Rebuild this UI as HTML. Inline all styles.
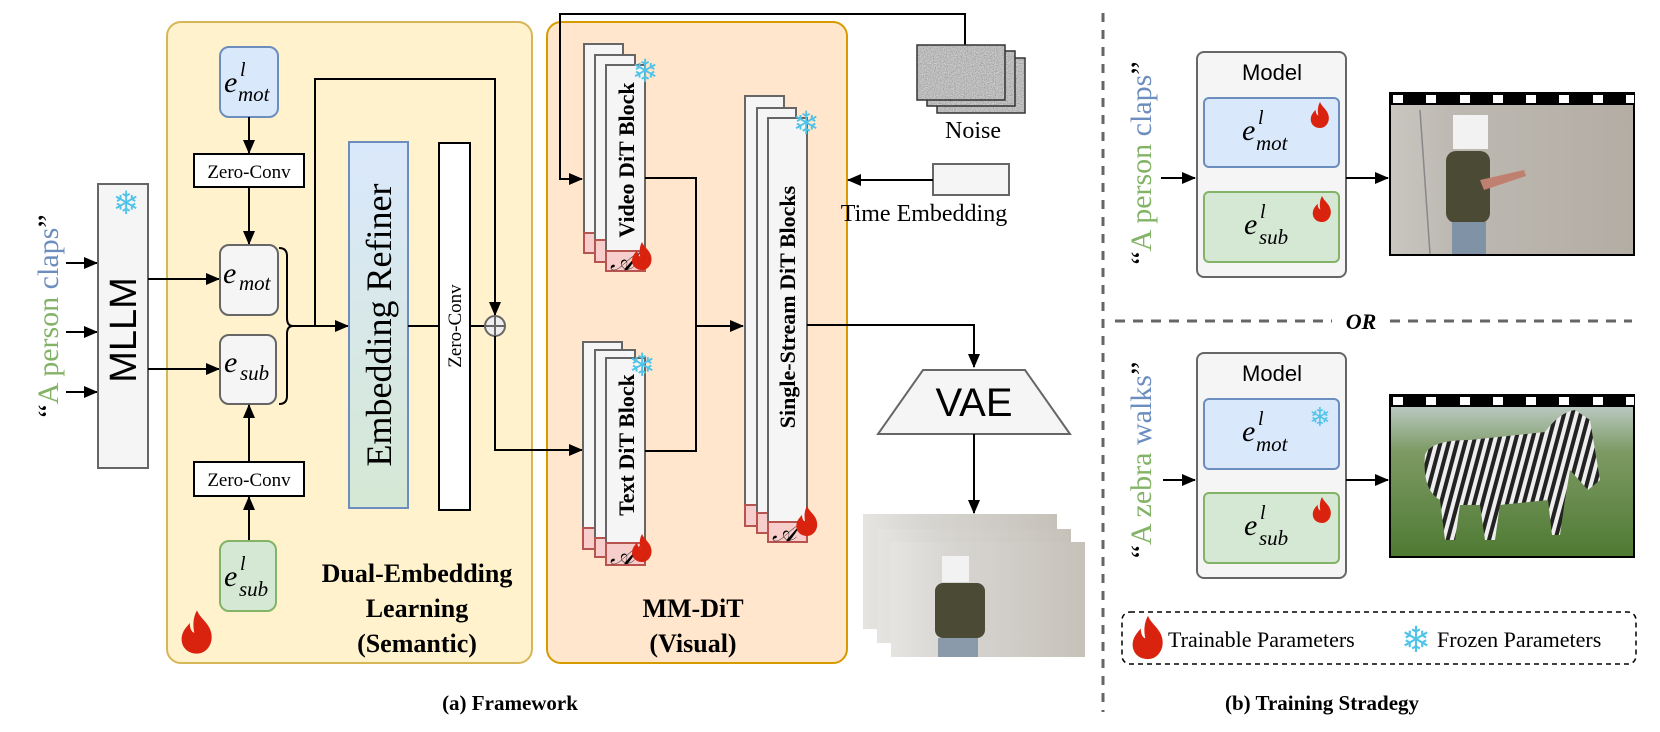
<!DOCTYPE html>
<html><head><meta charset="utf-8"><style>
html,body{margin:0;padding:0;background:#fff;}
svg{display:block;}
.serif{font-family:"Liberation Serif",serif;}
.sans{font-family:"Liberation Sans",sans-serif;}
</style></head><body>
<svg width="1660" height="732" viewBox="0 0 1660 732" xmlns="http://www.w3.org/2000/svg">
<defs>
<marker id="ar" markerWidth="14" markerHeight="12" refX="13" refY="6" orient="auto" markerUnits="userSpaceOnUse">
<path d="M0,0 L14,6 L0,12 z" fill="#000"/></marker>
<linearGradient id="ref" x1="0" y1="0" x2="0" y2="1"><stop offset="0" stop-color="#dae8fc"/><stop offset="1" stop-color="#d5e8d4"/></linearGradient>
<linearGradient id="wall" x1="0" y1="0" x2="1" y2="0"><stop offset="0" stop-color="#e6e4e0"/><stop offset="0.3" stop-color="#d8d6d2"/><stop offset="1" stop-color="#c6c2ba"/></linearGradient>
<linearGradient id="wall2" x1="0" y1="0" x2="1" y2="0"><stop offset="0" stop-color="#c9c6c0"/><stop offset="0.25" stop-color="#bdb9b2"/><stop offset="1" stop-color="#b3ada4"/></linearGradient>
<linearGradient id="grass" x1="0" y1="0" x2="0" y2="1"><stop offset="0" stop-color="#b9c8c0"/><stop offset="0.3" stop-color="#7d9a64"/><stop offset="1" stop-color="#4f7a33"/></linearGradient>
<pattern id="stripes" width="8" height="8" patternUnits="userSpaceOnUse" patternTransform="rotate(15)"><rect width="8" height="8" fill="#eee"/><rect width="4" height="8" fill="#222"/></pattern>
<filter id="nz" x="0" y="0" width="1" height="1"><feTurbulence type="fractalNoise" baseFrequency="0.9" numOctaves="2" seed="3"/><feColorMatrix type="matrix" values="0.33 0.33 0.33 0 0  0.33 0.33 0.33 0 0  0.33 0.33 0.33 0 0  0 0 0 0 1"/></filter>
<symbol id="flame" viewBox="0 0 40 48"><path d="M20,0 C24,10 34,14 36,26 C38,38 30,48 20,48 C9,48 2,40 3,30 C4,22 9,18 12,14 C12,20 14,24 17,25 C15,16 16,7 20,0 z" fill="#d9230f"/></symbol>
</defs>

<rect x="167" y="22" width="365" height="641" rx="14" fill="#fff2cc" stroke="#d6b656" stroke-width="2"/>
<rect x="547" y="22" width="300" height="641" rx="14" fill="#ffe6cc" stroke="#d79b00" stroke-width="2"/>

<text class="serif" font-size="30" transform="translate(58,316) rotate(-90)" text-anchor="middle"><tspan fill="#000">“</tspan><tspan fill="#82b366">A person </tspan><tspan fill="#6c8ebf">claps</tspan><tspan fill="#000">”</tspan></text>
<g stroke="#000" stroke-width="2" marker-end="url(#ar)">
<line x1="66" y1="263" x2="97" y2="263"/><line x1="66" y1="332" x2="97" y2="332"/><line x1="66" y1="392" x2="97" y2="392"/>
</g>
<rect x="98" y="184" width="50" height="284" fill="#f5f5f5" stroke="#666" stroke-width="2"/>
<text class="sans" font-size="38" transform="translate(136,330) rotate(-90)" text-anchor="middle">MLLM</text>
<text x="126" y="214" font-size="32" fill="#4fc3e8" text-anchor="middle" font-family="DejaVu Sans">❄</text>
<g stroke="#000" stroke-width="2" marker-end="url(#ar)">
<line x1="148" y1="279" x2="219" y2="279"/><line x1="148" y1="369" x2="219" y2="369"/>
</g>

<rect x="220" y="47" width="58" height="70" rx="9" fill="#dae8fc" stroke="#6c8ebf" stroke-width="2"/>
<text class="serif" font-style="italic" x="224" y="92" font-size="30">e</text>
<text class="serif" font-style="italic" x="240" y="76" font-size="20">l</text>
<text class="serif" font-style="italic" x="238" y="101" font-size="21">mot</text>
<line x1="249" y1="117" x2="249" y2="153" stroke="#000" stroke-width="2" marker-end="url(#ar)"/>
<rect x="194" y="154" width="110" height="33" fill="#fff" stroke="#000" stroke-width="2"/>
<text class="serif" x="249" y="178" font-size="19" text-anchor="middle">Zero-Conv</text>
<line x1="249" y1="187" x2="249" y2="244" stroke="#000" stroke-width="2" marker-end="url(#ar)"/>
<rect x="220" y="245" width="58" height="70" rx="9" fill="#f5f5f5" stroke="#666" stroke-width="2"/>
<text class="serif" font-style="italic" x="223" y="283" font-size="30">e</text>
<text class="serif" font-style="italic" x="239" y="290" font-size="21">mot</text>
<rect x="220" y="335" width="56" height="69" rx="9" fill="#f5f5f5" stroke="#666" stroke-width="2"/>
<text class="serif" font-style="italic" x="224" y="372" font-size="30">e</text>
<text class="serif" font-style="italic" x="240" y="380" font-size="21">sub</text>
<path d="M279,248 Q287,248 287,256 L287,318 Q287,326 293,326 Q287,326 287,334 L287,396 Q287,404 279,404" fill="none" stroke="#000" stroke-width="2"/>
<line x1="293" y1="326" x2="348" y2="326" stroke="#000" stroke-width="2" marker-end="url(#ar)"/>
<polyline points="315,326 315,79 495,79 495,315" fill="none" stroke="#000" stroke-width="2" marker-end="url(#ar)"/>
<line x1="249" y1="541" x2="249" y2="497" stroke="#000" stroke-width="2" marker-end="url(#ar)"/>
<rect x="194" y="462" width="110" height="34" fill="#fff" stroke="#000" stroke-width="2"/>
<text class="serif" x="249" y="486" font-size="19" text-anchor="middle">Zero-Conv</text>
<line x1="249" y1="462" x2="249" y2="405" stroke="#000" stroke-width="2" marker-end="url(#ar)"/>
<rect x="220" y="541" width="56" height="70" rx="9" fill="#d5e8d4" stroke="#82b366" stroke-width="2"/>
<text class="serif" font-style="italic" x="224" y="586" font-size="30">e</text>
<text class="serif" font-style="italic" x="240" y="570" font-size="20">l</text>
<text class="serif" font-style="italic" x="239" y="596" font-size="21">sub</text>

<rect x="349" y="142" width="59" height="366" fill="url(#ref)" stroke="#6c8ebf" stroke-width="2"/>
<text class="serif" font-size="36" transform="translate(391,325) rotate(-90)" text-anchor="middle">Embedding Refiner</text>
<line x1="408" y1="326" x2="439" y2="326" stroke="#000" stroke-width="2"/>
<rect x="439" y="143" width="31" height="367" fill="#fff" stroke="#000" stroke-width="2"/>
<text class="serif" font-size="19" transform="translate(461,326) rotate(-90)" text-anchor="middle">Zero-Conv</text>
<line x1="470" y1="326" x2="485" y2="326" stroke="#000" stroke-width="2"/>
<circle cx="495" cy="326" r="10" fill="#eee" stroke="#666" stroke-width="2"/>
<line x1="485" y1="326" x2="505" y2="326" stroke="#666" stroke-width="2"/>
<line x1="495" y1="316" x2="495" y2="336" stroke="#666" stroke-width="2"/>
<polyline points="495,336 495,450 582,450" fill="none" stroke="#000" stroke-width="2" marker-end="url(#ar)"/>

<use href="#flame" x="179" y="610" width="36" height="44"/>
<g class="serif" font-weight="bold" font-size="26" text-anchor="middle">
<text x="417" y="582">Dual-Embedding</text><text x="417" y="617">Learning</text><text x="417" y="652">(Semantic)</text>
<text x="693" y="617">MM-DiT</text><text x="693" y="652">(Visual)</text>
</g>

<polyline points="965,45 965,14 560,14 560,179 582,179" fill="none" stroke="#000" stroke-width="2" marker-end="url(#ar)"/>

<g stroke="#666" stroke-width="2">
<rect x="584" y="44" width="39" height="189" fill="#f5f5f5"/><rect x="584" y="233" width="39" height="20" fill="#f8cecc" stroke="#b85450"/>
<rect x="595" y="55" width="40" height="185" fill="#f5f5f5"/><rect x="595" y="240" width="40" height="22" fill="#f8cecc" stroke="#b85450"/>
<rect x="606" y="65" width="39" height="186" fill="#f5f5f5"/><rect x="606" y="251" width="39" height="20" fill="#f8cecc" stroke="#b85450"/>
</g>
<text class="serif" font-weight="bold" font-size="22" transform="translate(634,160) rotate(-90)" text-anchor="middle">Video DiT Block</text>
<text class="serif" font-style="italic" font-size="26" x="610" y="270">𝒜</text>
<text x="645" y="82" font-size="32" fill="#4fc3e8" text-anchor="middle" font-family="DejaVu Sans">❄</text>
<use href="#flame" x="630" y="242" width="24" height="28"/>

<g stroke="#666" stroke-width="2">
<rect x="583" y="342" width="39" height="186" fill="#f5f5f5"/><rect x="583" y="528" width="39" height="21" fill="#f8cecc" stroke="#b85450"/>
<rect x="595" y="350" width="40" height="188" fill="#f5f5f5"/><rect x="595" y="538" width="40" height="19" fill="#f8cecc" stroke="#b85450"/>
<rect x="606" y="358" width="39" height="185" fill="#f5f5f5"/><rect x="606" y="543" width="39" height="22" fill="#f8cecc" stroke="#b85450"/>
</g>
<text class="serif" font-weight="bold" font-size="22" transform="translate(634,445) rotate(-90)" text-anchor="middle">Text DiT Block</text>
<text class="serif" font-style="italic" font-size="26" x="610" y="564">𝒜</text>
<text x="642" y="376" font-size="32" fill="#4fc3e8" text-anchor="middle" font-family="DejaVu Sans">❄</text>
<use href="#flame" x="630" y="534" width="24" height="28"/>

<polyline points="645,178 696,178 696,451 645,451" fill="none" stroke="#000" stroke-width="2"/>
<line x1="696" y1="326" x2="743" y2="326" stroke="#000" stroke-width="2" marker-end="url(#ar)"/>

<g stroke="#666" stroke-width="2">
<rect x="745" y="96" width="39" height="409" fill="#f5f5f5"/><rect x="745" y="505" width="39" height="21" fill="#f8cecc" stroke="#b85450"/>
<rect x="757" y="108" width="39" height="405" fill="#f5f5f5"/><rect x="757" y="513" width="39" height="20" fill="#f8cecc" stroke="#b85450"/>
<rect x="768" y="118" width="39" height="404" fill="#f5f5f5"/><rect x="768" y="522" width="39" height="20" fill="#f8cecc" stroke="#b85450"/>
</g>
<text class="serif" font-weight="bold" font-size="22" transform="translate(795,307) rotate(-90)" text-anchor="middle">Single-Stream DiT Blocks</text>
<text class="serif" font-style="italic" font-size="26" x="772" y="541">𝒜</text>
<text x="806" y="134" font-size="32" fill="#4fc3e8" text-anchor="middle" font-family="DejaVu Sans">❄</text>
<use href="#flame" x="794" y="506" width="26" height="30"/>

<polyline points="807,325 974,325 974,367" fill="none" stroke="#000" stroke-width="2" marker-end="url(#ar)"/>

<rect x="937" y="58" width="88" height="55" fill="#666" filter="url(#nz)"/>
<rect x="937" y="58" width="88" height="55" fill="none" stroke="#333" stroke-width="1.5"/>
<rect x="927" y="51" width="88" height="55" fill="#666" filter="url(#nz)"/>
<rect x="927" y="51" width="88" height="55" fill="none" stroke="#333" stroke-width="1.5"/>
<rect x="917" y="45" width="88" height="55" fill="#666" filter="url(#nz)"/>
<rect x="917" y="45" width="88" height="55" fill="none" stroke="#333" stroke-width="1.5"/>
<text class="serif" x="973" y="138" font-size="24" text-anchor="middle">Noise</text>
<rect x="933" y="164" width="76" height="31" fill="#f5f5f5" stroke="#666" stroke-width="2"/>
<line x1="933" y1="180" x2="848" y2="180" stroke="#000" stroke-width="2" marker-end="url(#ar)"/>
<text class="serif" x="924" y="221" font-size="24" text-anchor="middle">Time Embedding</text>

<polygon points="923,370 1025,370 1070,434 878,434" fill="#f5f5f5" stroke="#666" stroke-width="2"/>
<text class="sans" x="974" y="416" font-size="40" text-anchor="middle">VAE</text>
<line x1="974" y1="434" x2="974" y2="513" stroke="#000" stroke-width="2" marker-end="url(#ar)"/>

<rect x="863" y="514" width="194" height="115" fill="url(#wall)"/>
<rect x="877" y="529" width="194" height="114" fill="url(#wall)"/>
<rect x="891" y="542" width="194" height="115" fill="url(#wall)"/>
<rect x="935" y="583" width="50" height="55" rx="8" fill="#4a4a35"/>
<rect x="938" y="638" width="40" height="19" fill="#8a9aaa"/>
<rect x="942" y="556" width="27" height="26" fill="#f2f2f2"/>

<line x1="1103" y1="13" x2="1103" y2="712" stroke="#666" stroke-width="3" stroke-dasharray="9,8"/>
<line x1="1115" y1="321" x2="1332" y2="321" stroke="#666" stroke-width="3" stroke-dasharray="10,8"/>
<line x1="1390" y1="321" x2="1632" y2="321" stroke="#666" stroke-width="3" stroke-dasharray="10,8"/>
<text class="serif" x="1361" y="329" font-size="22" font-weight="bold" font-style="italic" text-anchor="middle">OR</text>

<text class="serif" font-size="30" transform="translate(1151,163) rotate(-90)" text-anchor="middle"><tspan fill="#000">“</tspan><tspan fill="#82b366">A person </tspan><tspan fill="#6c8ebf">claps</tspan><tspan fill="#000">”</tspan></text>
<line x1="1161" y1="178" x2="1195" y2="178" stroke="#000" stroke-width="2" marker-end="url(#ar)"/>
<rect x="1197" y="52" width="149" height="225" rx="7" fill="#f5f5f5" stroke="#666" stroke-width="2"/>
<text class="sans" x="1272" y="80" font-size="22" text-anchor="middle">Model</text>
<rect x="1204" y="98" width="135" height="69" rx="5" fill="#dae8fc" stroke="#6c8ebf" stroke-width="2"/>
<text class="serif" font-style="italic" x="1242" y="140" font-size="30">e</text>
<text class="serif" font-style="italic" x="1258" y="124" font-size="20">l</text>
<text class="serif" font-style="italic" x="1256" y="150" font-size="21">mot</text>
<use href="#flame" x="1309" y="102" width="22" height="26"/>
<rect x="1204" y="192" width="135" height="70" rx="5" fill="#d5e8d4" stroke="#82b366" stroke-width="2"/>
<text class="serif" font-style="italic" x="1244" y="234" font-size="30">e</text>
<text class="serif" font-style="italic" x="1260" y="218" font-size="20">l</text>
<text class="serif" font-style="italic" x="1259" y="244" font-size="21">sub</text>
<use href="#flame" x="1311" y="196" width="22" height="26"/>
<line x1="1346" y1="178" x2="1388" y2="178" stroke="#000" stroke-width="2" marker-end="url(#ar)"/>
<rect x="1389" y="92" width="246" height="164" fill="#000"/>
<rect x="1391" y="105" width="242" height="149" fill="url(#wall2)"/>
<g fill="#fff"><rect x="1393" y="95" width="10" height="8"/><rect x="1426" y="95" width="10" height="8"/><rect x="1460" y="95" width="10" height="8"/><rect x="1493" y="95" width="10" height="8"/><rect x="1526" y="95" width="10" height="8"/><rect x="1559" y="95" width="10" height="8"/><rect x="1593" y="95" width="10" height="8"/><rect x="1626" y="95" width="8" height="8"/></g>
<line x1="1420" y1="110" x2="1430" y2="254" stroke="#888" stroke-width="1.5"/>
<rect x="1446" y="151" width="44" height="72" rx="10" fill="#4a4a35"/>
<rect x="1452" y="222" width="34" height="32" fill="#7f92a6"/>
<path d="M1480,180 L1524,170 L1526,176 L1484,190 z" fill="#c08070"/>
<rect x="1453" y="115" width="35" height="34" fill="#f2f2f2"/>

<text class="serif" font-size="30" transform="translate(1151,460) rotate(-90)" text-anchor="middle"><tspan fill="#000">“</tspan><tspan fill="#82b366">A zebra </tspan><tspan fill="#6c8ebf">walks</tspan><tspan fill="#000">”</tspan></text>
<line x1="1163" y1="480" x2="1195" y2="480" stroke="#000" stroke-width="2" marker-end="url(#ar)"/>
<rect x="1197" y="353" width="149" height="225" rx="7" fill="#f5f5f5" stroke="#666" stroke-width="2"/>
<text class="sans" x="1272" y="381" font-size="22" text-anchor="middle">Model</text>
<rect x="1204" y="399" width="135" height="70" rx="5" fill="#dae8fc" stroke="#6c8ebf" stroke-width="2"/>
<text class="serif" font-style="italic" x="1242" y="441" font-size="30">e</text>
<text class="serif" font-style="italic" x="1258" y="425" font-size="20">l</text>
<text class="serif" font-style="italic" x="1256" y="451" font-size="21">mot</text>
<text x="1320" y="426" font-size="26" fill="#4fc3e8" text-anchor="middle" font-family="DejaVu Sans">❄</text>
<rect x="1204" y="493" width="135" height="70" rx="5" fill="#d5e8d4" stroke="#82b366" stroke-width="2"/>
<text class="serif" font-style="italic" x="1244" y="535" font-size="30">e</text>
<text class="serif" font-style="italic" x="1260" y="519" font-size="20">l</text>
<text class="serif" font-style="italic" x="1259" y="545" font-size="21">sub</text>
<use href="#flame" x="1311" y="497" width="22" height="26"/>
<line x1="1346" y1="480" x2="1388" y2="480" stroke="#000" stroke-width="2" marker-end="url(#ar)"/>
<rect x="1389" y="394" width="246" height="164" fill="#000"/>
<rect x="1391" y="407" width="242" height="149" fill="url(#grass)"/>
<g fill="#fff"><rect x="1393" y="397" width="10" height="8"/><rect x="1426" y="397" width="10" height="8"/><rect x="1460" y="397" width="10" height="8"/><rect x="1493" y="397" width="10" height="8"/><rect x="1526" y="397" width="10" height="8"/><rect x="1559" y="397" width="10" height="8"/><rect x="1593" y="397" width="10" height="8"/><rect x="1626" y="397" width="8" height="8"/></g>
<path d="M1425,455 Q1430,440 1470,440 L1545,432 Q1560,412 1575,410 L1590,420 L1600,480 L1588,490 L1570,470 L1565,500 L1560,535 L1552,535 L1548,500 L1500,505 L1495,540 L1485,540 L1480,505 L1460,505 L1455,540 L1445,540 L1440,500 Q1422,490 1425,455 z" fill="url(#stripes)"/>

<rect x="1122" y="612" width="514" height="52" rx="8" fill="none" stroke="#000" stroke-width="1.5" stroke-dasharray="5,4"/>
<use href="#flame" x="1130" y="615" width="36" height="45"/>
<text class="serif" x="1168" y="647" font-size="22">Trainable Parameters</text>
<text x="1416" y="652" font-size="36" fill="#4fc3e8" text-anchor="middle" font-family="DejaVu Sans">❄</text>
<text class="serif" x="1437" y="647" font-size="22">Frozen Parameters</text>

<text class="serif" x="510" y="710" font-size="21" font-weight="bold" text-anchor="middle">(a) Framework</text>
<text class="serif" x="1322" y="710" font-size="21" font-weight="bold" text-anchor="middle">(b) Training Stradegy</text>
</svg>
</body></html>
